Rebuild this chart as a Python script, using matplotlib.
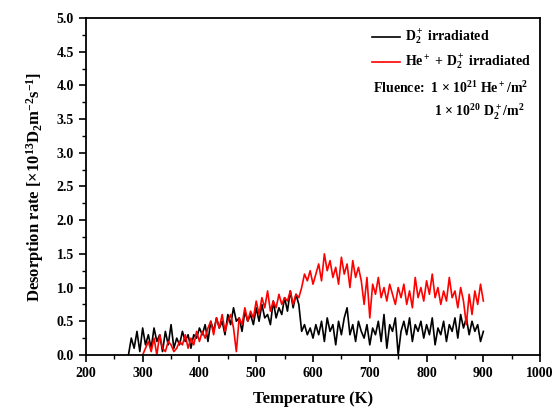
import numpy as np
import matplotlib
matplotlib.use("Agg")
import matplotlib.pyplot as plt
from matplotlib.ticker import MultipleLocator

plt.rcParams["font.family"] = ["Liberation Serif", "DejaVu Serif"]
plt.rcParams["font.weight"] = "bold"
plt.rcParams["mathtext.fontset"] = "custom"
plt.rcParams["mathtext.rm"] = "Liberation Serif:bold"
plt.rcParams["mathtext.it"] = "Liberation Serif:bold"
plt.rcParams["mathtext.bf"] = "Liberation Serif:bold"

# === Data ===
temp_d2 = np.arange(275, 901, 5)
rate_d2 = [
    0.0, 0.25, 0.1, 0.35, 0.05, 0.4,
    0.15, 0.3, 0.1, 0.4, 0.2, 0.3, 0.05, 0.35, 0.15, 0.45,
    0.1, 0.25, 0.15, 0.35, 0.2, 0.3, 0.1, 0.3, 0.25, 0.4,
    0.3, 0.45, 0.2, 0.5, 0.35, 0.55, 0.4, 0.5, 0.3, 0.6,
    0.45, 0.7, 0.5, 0.55, 0.35, 0.65, 0.5, 0.6, 0.45, 0.7,
    0.5, 0.75, 0.55, 0.6, 0.45, 0.8, 0.55, 0.7, 0.6, 0.85,
    0.65, 0.95, 0.7, 0.9, 0.75, 0.35, 0.45, 0.3, 0.4, 0.25,
    0.45, 0.3, 0.5, 0.2, 0.55, 0.35, 0.45, 0.15, 0.5, 0.3,
    0.55, 0.7, 0.3, 0.45, 0.2, 0.5, 0.35, 0.25, 0.45, 0.15,
    0.4, 0.3, 0.5, 0.2, 0.6, 0.1, 0.45, 0.35, 0.55, 0.0,
    0.35, 0.5, 0.3, 0.55, 0.2, 0.45, 0.35, 0.5, 0.25, 0.45,
    0.3, 0.55, 0.15, 0.4, 0.3, 0.5, 0.2, 0.45, 0.35, 0.55,
    0.25, 0.6, 0.4, 0.55, 0.3, 0.5, 0.35, 0.45, 0.2, 0.35,
]

temp_he = np.arange(300, 901, 5)
rate_he = [
    0.0,
    0.1, 0.2, 0.05, 0.25, 0.0, 0.3, 0.1, 0.05, 0.2, 0.15,
    0.05, 0.1, 0.2, 0.15, 0.3, 0.1, 0.25, 0.15, 0.35, 0.2,
    0.35, 0.25, 0.4, 0.5, 0.3, 0.55, 0.4, 0.6, 0.35, 0.5,
    0.6, 0.4, 0.05, 0.55, 0.45, 0.7, 0.5, 0.65, 0.55, 0.8,
    0.6, 0.85, 0.7, 0.95, 0.65, 0.8, 0.7, 0.9, 0.75, 0.85,
    0.8, 0.95, 0.75, 0.9, 0.85, 1.0, 1.2, 1.1, 1.25, 1.05,
    1.2, 1.35, 1.1, 1.5, 1.25, 1.4, 1.15, 1.3, 1.05, 1.45,
    1.2, 1.35, 1.0, 1.4, 1.15, 1.3, 1.1, 0.75, 1.15, 0.55,
    1.05, 0.9, 1.15, 0.85, 1.0, 0.8, 1.05, 0.9, 0.75, 1.0,
    0.85, 1.05, 0.75, 0.95, 0.7, 1.15, 0.85, 1.0, 0.8, 1.1,
    0.9, 1.2, 0.85, 1.0, 0.75, 0.95, 0.8, 1.15, 0.85, 0.95,
    0.7, 1.0, 0.8, 0.45, 0.9, 0.6, 0.95, 0.75, 1.05, 0.8,
]

fig = plt.figure(figsize=(5.54, 4.08), dpi=100)
ax = fig.add_axes([0.155, 0.130, 0.82, 0.826])

ax.plot(temp_d2, rate_d2, color="black", lw=1.2)
ax.plot(temp_he, rate_he, color="#ff0000", lw=1.2)

ax.set_xlim(200, 1000)
ax.set_ylim(0, 5.0)
ax.xaxis.set_major_locator(MultipleLocator(100))
ax.xaxis.set_minor_locator(MultipleLocator(50))
ax.yaxis.set_major_locator(MultipleLocator(0.5))
ax.yaxis.set_minor_locator(MultipleLocator(0.25))
ax.yaxis.set_major_formatter(plt.FormatStrFormatter("%.1f"))
ax.tick_params(which="major", direction="out", length=5, width=1.2, labelsize=10)
ax.tick_params(which="minor", direction="out", length=3, width=1.0)
for sp in ax.spines.values():
    sp.set_linewidth(1.3)

ax.set_xlabel("Temperature (K)", fontsize=12, fontweight="bold", labelpad=8)
ax.set_ylabel(r"Desorption rate [$\times$10$^{13}$D$_2$m$^{-2}$s$^{-1}$]",
              fontsize=12, fontweight="bold", labelpad=8)

# legend drawn by hand to match the layout
def ax_xy(px, py):
    return fig.transFigure.inverted().transform((px, 408 - py))

for py, col, lbl in [(37, "black", r"D$_2^+$ irradiated"),
                     (62, "#ff0000", r"He$^+$ + D$_2^+$ irradiated")]:
    x0, y0 = ax_xy(372, py)
    x1, _ = ax_xy(400, py)
    fig.add_artist(plt.Line2D([x0, x1], [y0, y0], color=col, lw=1.2))
    tx, ty = ax_xy(405, py)
    fig.text(tx, ty, lbl, fontsize=10, fontweight="bold", va="center")

fx, fy = ax_xy(373, 88)
fig.text(fx, fy, r"Fluence:  1 $\times$ 10$^{21}$ He$^+$/m$^2$", fontsize=10,
         fontweight="bold", va="center")
fx, fy = ax_xy(434, 112)
fig.text(fx, fy, r"1 $\times$ 10$^{20}$ D$_2^+$/m$^2$", fontsize=10,
         fontweight="bold", va="center")

fig.savefig("out.png", dpi=100)
